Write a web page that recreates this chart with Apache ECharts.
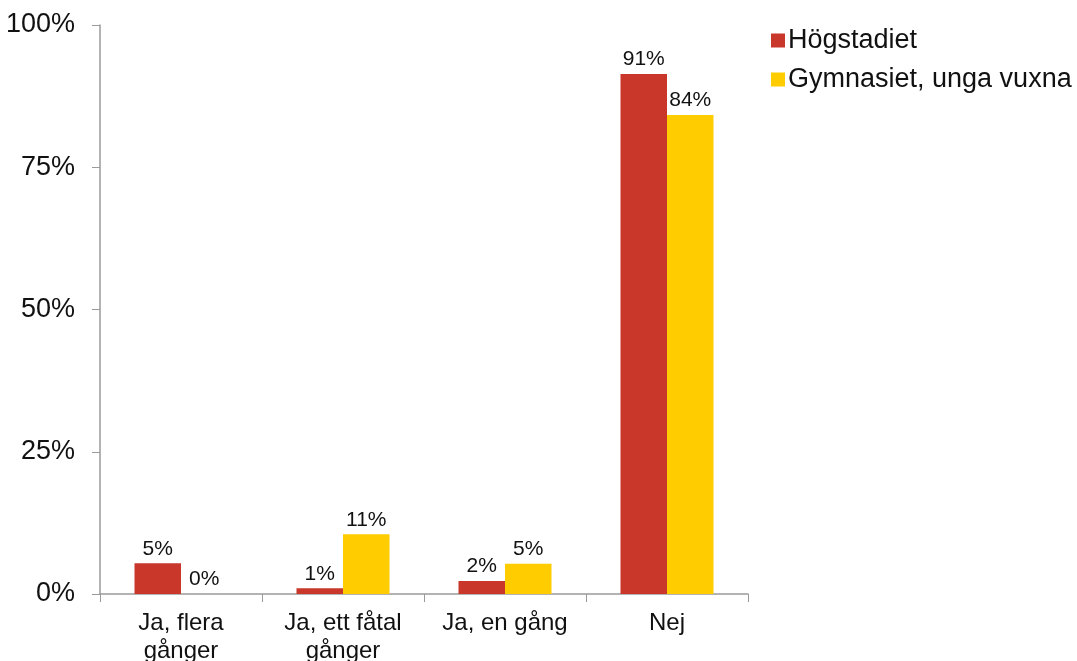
<!DOCTYPE html>
<html><head><meta charset="utf-8">
<script src="https://cdn.jsdelivr.net/npm/echarts@6/dist/echarts.min.js"></script>
<style>html,body{margin:0;padding:0;background:#fff}#c{width:1077px;height:661px}</style>
</head><body><div id="c"></div>
<script>
const categories = ['Ja, flera\ngånger', 'Ja, ett fåtal\ngånger', 'Ja, en gång', 'Nej'];
const seriesNames = ['Högstadiet', 'Gymnasiet, unga vuxna'];
const hogstadiet = [5.4, 1.0, 2.3, 91.4];
const gymnasiet = [0, 10.5, 5.3, 84.2];
const yTicks = [0, 25, 50, 75, 100];
const colors = ['#C9372A', '#FFCC00'];

const chart = echarts.init(document.getElementById('c'), null, {renderer: 'canvas'});
const font = 'Liberation Sans, Arial, sans-serif';
const lbl = {show: true, position: 'top', distance: 4, color: '#111', fontFamily: font, fontSize: 21,
  formatter: p => Math.round(p.value) + '%'};
chart.setOption({
  animation: false,
  color: colors,
  grid: {left: 100, right: 329, top: 25, bottom: 67, containLabel: false, outerBoundsMode: 'none'},
  legend: {
    orient: 'vertical', left: 766, top: 22, itemWidth: 14, itemHeight: 14, itemGap: 12,
    icon: 'rect',
    textStyle: {fontFamily: font, fontSize: 27, color: '#111', padding: [0, 0, 0, -2]},
    data: seriesNames
  },
  xAxis: {
    type: 'category', data: categories,
    axisLine: {lineStyle: {color: '#9a9a9a', width: 1.5}},
    axisTick: {show: true, alignWithLabel: false, length: 8, lineStyle: {color: '#9a9a9a'}},
    axisLabel: {fontFamily: font, fontSize: 24, color: '#111', margin: 15, lineHeight: 28, interval: 0}
  },
  yAxis: {
    type: 'value', min: 0, max: 100, interval: 25,
    splitLine: {show: false},
    axisLine: {show: true, lineStyle: {color: '#9a9a9a', width: 1.5}},
    axisTick: {show: true, length: 8, lineStyle: {color: '#9a9a9a'}},
    axisLabel: {fontFamily: font, fontSize: 27, color: '#111', margin: 25,
      formatter: v => yTicks.includes(v) ? v + '%' : ''}
  },
  series: [
    {name: seriesNames[0], type: 'bar', data: hogstadiet, barWidth: 46.5, barGap: '0%', label: lbl},
    {name: seriesNames[1], type: 'bar', data: gymnasiet, barWidth: 46.5, barGap: '0%', label: lbl}
  ]
});
</script></body></html>
